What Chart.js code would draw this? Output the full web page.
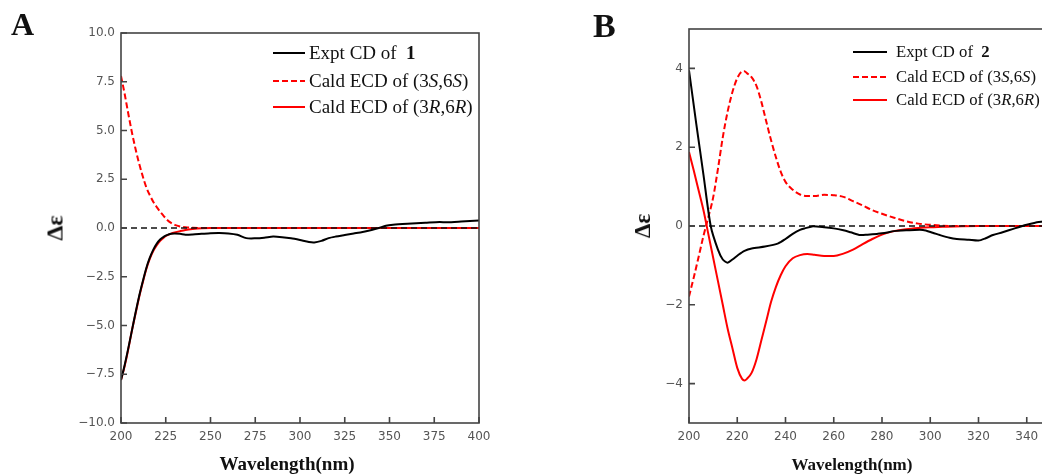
<!DOCTYPE html>
<html>
<head>
<meta charset="utf-8">
<script src="https://cdn.jsdelivr.net/npm/chart.js@4.4.0/dist/chart.umd.min.js"></script>
<style>
  html, body { margin: 0; padding: 0; background: #fff; width: 1042px; height: 474px; overflow: hidden; }
  .panel { position: absolute; top: 0; height: 474px; }
  .txt { position: absolute; font-family: "Liberation Serif", "Times New Roman", serif; color: #111; white-space: nowrap; }
  .letter { font-weight: bold; line-height: 1; }
  .xtitle { font-weight: bold; transform: translate(-50%, -50%); }
  .ytitle { font-weight: bold; transform: translate(-50%, -50%) rotate(-90deg); }
  .lg { position: absolute; display: flex; align-items: center; }
  .lg svg { display: block; }
</style>
</head>
<body>
<div class="panel" style="left:0;width:520px"><canvas id="chartA" width="520" height="474"></canvas></div>
<div class="panel" style="left:580px;width:540px"><canvas id="chartB" width="540" height="474"></canvas></div>

<div class="txt letter" style="left:11px;top:8px;font-size:32px">A</div>
<div class="txt letter" style="left:593px;top:9px;font-size:34px">B</div>
<div class="txt xtitle" style="left:287px;top:464px;font-size:19px">Wavelength(nm)</div>
<div class="txt xtitle" style="left:852px;top:465px;font-size:17px">Wavelength(nm)</div>
<div class="txt ytitle" style="left:55px;top:228px;font-size:24px">Δε</div>
<div class="txt ytitle" style="left:643px;top:226px;font-size:23px">Δε</div>
<div id="legendA"></div>
<div id="legendB"></div>

<script>
// ---- panel A data ----
const xTicksA = [200, 225, 250, 275, 300, 325, 350, 375, 400];
const yTicksA = [-10, -7.5, -5, -2.5, 0, 2.5, 5, 7.5, 10];

const wlExptA = [200, 202, 204, 206, 208, 210, 212, 214, 216, 218, 220, 222, 224, 226, 228, 230, 233, 236, 240, 245, 250, 255, 260, 265, 270, 275, 280, 285, 290, 295, 300, 305, 308, 312, 316, 320, 325, 330, 335, 340, 344, 348, 352, 360, 370, 378, 382, 390, 400];
const exptA = [-7.8, -7.05, -6.2, -5.3, -4.4, -3.55, -2.8, -2.1, -1.55, -1.12, -0.8, -0.58, -0.44, -0.35, -0.3, -0.28, -0.3, -0.34, -0.33, -0.3, -0.27, -0.26, -0.28, -0.35, -0.52, -0.53, -0.5, -0.44, -0.47, -0.53, -0.62, -0.72, -0.74, -0.66, -0.52, -0.44, -0.36, -0.28, -0.2, -0.1, 0.0, 0.12, 0.17, 0.22, 0.27, 0.31, 0.29, 0.33, 0.39];

const wlCalcA = [200, 202, 204, 206, 208, 210, 212, 214, 216, 218, 220, 222, 224, 226, 228, 230, 233, 236, 240, 245, 250, 300, 350, 400];
const calcSA = [7.8, 6.9, 5.9, 4.95, 4.1, 3.35, 2.7, 2.12, 1.7, 1.35, 1.07, 0.82, 0.6, 0.4, 0.26, 0.16, 0.08, 0.04, 0.01, 0, 0, 0, 0, 0];
const calcRA = [-7.8, -7.1, -6.25, -5.3, -4.45, -3.6, -2.85, -2.15, -1.6, -1.18, -0.88, -0.65, -0.48, -0.37, -0.29, -0.23, -0.16, -0.1, -0.05, -0.01, 0, 0, 0, 0];

// ---- panel B data ----
const xTicksB = [200, 220, 240, 260, 280, 300, 320, 340, 360];
const yTicksB = [-4, -2, 0, 2, 4];

const wlExptB = [200, 203, 206, 209, 212, 214, 216, 218, 220.5, 223, 226, 231.5, 237, 240, 243, 246, 248, 251, 256, 260, 264, 267, 271, 274, 278, 281, 285, 290, 297, 301, 304, 308, 311, 316, 320, 323, 326, 330, 335, 340, 345, 352, 360];
const exptB = [3.95, 2.6, 1.3, 0, -0.6, -0.85, -0.93, -0.85, -0.73, -0.63, -0.57, -0.52, -0.44, -0.33, -0.2, -0.1, -0.06, -0.01, -0.03, -0.06, -0.11, -0.16, -0.23, -0.22, -0.2, -0.18, -0.13, -0.11, -0.1, -0.17, -0.23, -0.3, -0.33, -0.35, -0.37, -0.31, -0.23, -0.16, -0.06, 0.03, 0.1, 0.13, 0.15];

const wlCalcB = [200, 202, 204, 206, 208, 210, 212, 214, 216, 218, 220, 222, 223, 224, 226, 228, 230, 232, 234, 236, 238, 240, 243, 246, 249, 252, 256, 260, 264, 268, 272, 276, 280, 285, 290, 295, 300, 305, 310, 320, 340, 360];
const calcSB = [-1.79, -1.3, -0.78, -0.25, 0.22, 0.72, 1.45, 2.25, 2.9, 3.4, 3.75, 3.92, 3.93, 3.88, 3.77, 3.55, 3.15, 2.66, 2.18, 1.75, 1.38, 1.12, 0.92, 0.8, 0.76, 0.76, 0.79, 0.78, 0.74, 0.63, 0.52, 0.4, 0.31, 0.21, 0.12, 0.06, 0.03, 0.01, 0, 0, 0, 0];
const calcRB = [1.88, 1.4, 0.9, 0.4, -0.2, -0.8, -1.4, -2.0, -2.6, -3.1, -3.6, -3.88, -3.92, -3.88, -3.72, -3.38, -2.9, -2.42, -1.93, -1.55, -1.25, -1.02, -0.82, -0.74, -0.71, -0.73, -0.76, -0.76, -0.7, -0.6, -0.46, -0.33, -0.22, -0.13, -0.08, -0.05, -0.03, -0.02, -0.01, 0, 0, 0];

const labelsA = ['Expt CD of 1', 'Cald ECD of (3S,6S)', 'Cald ECD of (3R,6R)'];
const richA = ['Expt CD of&nbsp; <b>1</b>', 'Cald ECD of (3<i>S</i>,6<i>S</i>)', 'Cald ECD of (3<i>R</i>,6<i>R</i>)'];
const labelsB = ['Expt CD of 2', 'Cald ECD of (3S,6S)', 'Cald ECD of (3R,6R)'];
const richB = ['Expt CD of&nbsp; <b>2</b>', 'Cald ECD of (3<i>S</i>,6<i>S</i>)', 'Cald ECD of (3<i>R</i>,6<i>R</i>)'];

function pts(xs, ys) {
    return xs.map(function (x, i) { return { x: x, y: ys[i] }; });
}

function minus(s) {
    return String(s).replace('-', '\u2212');
}

// frame round the plot + inward tick marks (matplotlib look)
const frameTicks = {
    id: 'frameTicks',
    afterDatasetsDraw(chart) {
        const ctx = chart.ctx;
        const a = chart.chartArea;
        const x = chart.scales.x, y = chart.scales.y;
        ctx.save();
        ctx.strokeStyle = '#444';
        ctx.lineWidth = 1.6;
        ctx.strokeRect(a.left, a.top, a.right - a.left, a.bottom - a.top);
        ctx.beginPath();
        x.ticks.forEach(function (t) {
            const px = x.getPixelForValue(t.value);
            ctx.moveTo(px, a.bottom);
            ctx.lineTo(px, a.bottom - 6);
        });
        y.ticks.forEach(function (t) {
            const py = y.getPixelForValue(t.value);
            ctx.moveTo(a.left, py);
            ctx.lineTo(a.left + 6, py);
        });
        ctx.stroke();
        ctx.restore();
    }
};

function makeChart(id, cfg) {
    const tickFont = { family: 'DejaVu Sans', size: 12 };
    return new Chart(document.getElementById(id), {
        type: 'line',
        data: {
            datasets: [
                {
                    label: cfg.labels[0],
                    data: pts(cfg.wlExpt, cfg.expt),
                    borderColor: '#000',
                    borderWidth: 2,
                    tension: 0.25,
                    order: 0,
                },
                {
                    label: 'zero',
                    data: pts([cfg.xTicks[0], cfg.xTicks[cfg.xTicks.length - 1]], [0, 0]),
                    borderColor: '#111',
                    borderWidth: 1.6,
                    borderDash: [6, 4],
                    order: 1,
                },
                {
                    label: cfg.labels[2],
                    data: pts(cfg.wlCalc, cfg.calcR),
                    borderColor: '#ff0000',
                    borderWidth: 2,
                    cubicInterpolationMode: 'monotone',
                    order: 2,
                },
                {
                    label: cfg.labels[1],
                    data: pts(cfg.wlCalc, cfg.calcS),
                    borderColor: '#ff0000',
                    borderWidth: 2,
                    borderDash: [6, 3],
                    cubicInterpolationMode: 'monotone',
                    order: 3,
                },
            ],
        },
        options: {
            responsive: false,
            animation: false,
            events: [],
            elements: { point: { radius: 0 } },
            layout: { padding: cfg.padding },
            plugins: {
                legend: { display: false },
                tooltip: { enabled: false },
            },
            scales: {
                x: {
                    type: 'linear',
                    min: cfg.xTicks[0],
                    max: cfg.xTicks[cfg.xTicks.length - 1],
                    grid: { display: false, drawTicks: false },
                    border: { display: false },
                    afterBuildTicks: function (s) {
                        s.ticks = cfg.xTicks.map(function (v) { return { value: v }; });
                    },
                    afterFit: function (s) { s.height = 51; },
                    ticks: {
                        color: '#555',
                        font: tickFont,
                        padding: 7,
                        maxRotation: 0,
                        callback: function (v) { return String(v); },
                    },
                },
                y: {
                    min: cfg.yMin,
                    max: cfg.yMax,
                    grid: { display: false, drawTicks: false },
                    border: { display: false },
                    afterBuildTicks: function (s) {
                        s.ticks = cfg.yTicks.map(function (v) { return { value: v }; });
                    },
                    afterFit: function (s) { s.width = cfg.yWidth; },
                    ticks: {
                        color: '#555',
                        font: tickFont,
                        padding: 6,
                        callback: function (v) { return minus(cfg.fmt(v)); },
                    },
                },
            },
        },
        plugins: [frameTicks],
    });
}

const chartA = makeChart('chartA', {
    labels: labelsA,
    wlExpt: wlExptA, expt: exptA,
    wlCalc: wlCalcA, calcS: calcSA, calcR: calcRA,
    xTicks: xTicksA, yTicks: yTicksA,
    yMin: -10, yMax: 10, yWidth: 121,
    padding: { top: 33, right: 41, left: 0, bottom: 0 },
    fmt: function (v) { return v.toFixed(1); },
});

const chartB = makeChart('chartB', {
    labels: labelsB,
    wlExpt: wlExptB, expt: exptB,
    wlCalc: wlCalcB, calcS: calcSB, calcR: calcRB,
    xTicks: xTicksB, yTicks: yTicksB,
    yMin: -5, yMax: 5, yWidth: 109,
    padding: { top: 29, right: 45, left: 0, bottom: 0 },
    fmt: function (v) { return String(v); },
});

// legend drawn as html so the bold number and italic S/R can be kept
function buildLegend(el, chart, rich, o) {
    const order = [0, 3, 2]; // expt, (3S,6S), (3R,6R)
    order.forEach(function (di, row) {
        const ds = chart.data.datasets[di];
        const dash = ds.borderDash ? ds.borderDash.join(',') : 'none';
        const div = document.createElement('div');
        div.className = 'lg txt';
        div.style.left = o.x + 'px';
        div.style.top = (o.ys[row] - 12) + 'px';
        div.style.height = '24px';
        div.style.fontSize = o.size + 'px';
        div.innerHTML =
            '<svg width="' + (o.len + o.gap) + '" height="24"><line x1="0" y1="12" x2="' + o.len +
            '" y2="12" stroke="' + ds.borderColor + '" stroke-width="2" stroke-dasharray="' + dash + '"/></svg>' +
            '<span>' + rich[row] + '</span>';
        el.appendChild(div);
    });
}

buildLegend(document.getElementById('legendA'), chartA, richA, { x: 273, ys: [53, 81, 107], len: 32, gap: 4, size: 19 });
buildLegend(document.getElementById('legendB'), chartB, richB, { x: 853, ys: [52, 77, 100], len: 34, gap: 9, size: 16.7 });
</script>
</body>
</html>
